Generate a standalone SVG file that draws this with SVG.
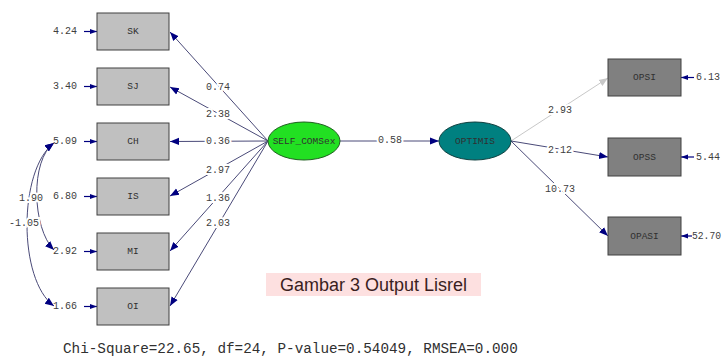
<svg xmlns="http://www.w3.org/2000/svg" width="722" height="358" viewBox="0 0 722 358">
<defs>
<style>
.box{fill:#c0c0c0;stroke:#404040;stroke-width:1}
.boxd{fill:#808080;stroke:#404040;stroke-width:1}
.t{font-family:"Liberation Mono","Courier New",monospace;font-size:9.5px;fill:#303030;text-anchor:middle;dominant-baseline:central}
.lbl{font-family:"Liberation Mono","Courier New",monospace;font-size:10px;fill:#404040;text-anchor:middle;dominant-baseline:central;stroke:#fff;stroke-width:4;paint-order:stroke}
.el{font-family:"Liberation Mono","Courier New",monospace;font-size:10px;fill:#404040;dominant-baseline:central}
.c{fill:none;stroke:#4a4a78;stroke-width:1}
.e{fill:none;stroke:#000080;stroke-width:1.2}
</style>
<marker id="ah" viewBox="0 0 10 10" refX="10" refY="5" markerWidth="9" markerHeight="9" markerUnits="userSpaceOnUse" orient="auto-start-reverse">
<path d="M0,1 L10,5 L0,9 Z" fill="#000080"/>
</marker>
<marker id="ahs" viewBox="0 0 10 10" refX="10" refY="5" markerWidth="7" markerHeight="7" markerUnits="userSpaceOnUse" orient="auto">
<path d="M0,1.5 L10,5 L0,8.5 Z" fill="#000080"/>
</marker>
<marker id="ahg" viewBox="0 0 10 10" refX="10" refY="5" markerWidth="9" markerHeight="9" markerUnits="userSpaceOnUse" orient="auto">
<path d="M0,1 L10,5 L0,9 Z" fill="#c8c8c8"/>
</marker>
</defs>
<rect width="722" height="358" fill="#fff"/>
<g id="connectors">
<line class="c" x1="268" y1="141" x2="170" y2="32" marker-end="url(#ah)"/>
<line class="c" x1="268" y1="141" x2="170" y2="87" marker-end="url(#ah)"/>
<line class="c" x1="268" y1="141" x2="170" y2="141.5" marker-end="url(#ah)"/>
<line class="c" x1="268" y1="141" x2="170" y2="196" marker-end="url(#ah)"/>
<line class="c" x1="268" y1="141" x2="170" y2="251" marker-end="url(#ah)"/>
<line class="c" x1="268" y1="141" x2="170" y2="306" marker-end="url(#ah)"/>
<line class="c" x1="340" y1="141" x2="439" y2="141" marker-end="url(#ah)"/>
<line x1="511" y1="141" x2="608" y2="78" stroke="#c8c8c8" stroke-width="1" marker-end="url(#ahg)"/>
<line class="c" x1="511" y1="141" x2="608" y2="157" marker-end="url(#ah)"/>
<line class="c" x1="511" y1="141" x2="608" y2="236" marker-end="url(#ah)"/>
<line class="e" x1="84" y1="31.5" x2="97" y2="31.5" marker-end="url(#ahs)"/>
<line class="e" x1="84" y1="86.5" x2="97" y2="86.5" marker-end="url(#ahs)"/>
<line class="e" x1="84" y1="141.5" x2="97" y2="141.5" marker-end="url(#ahs)"/>
<line class="e" x1="84" y1="196.5" x2="97" y2="196.5" marker-end="url(#ahs)"/>
<line class="e" x1="84" y1="251.5" x2="97" y2="251.5" marker-end="url(#ahs)"/>
<line class="e" x1="84" y1="306.5" x2="97" y2="306.5" marker-end="url(#ahs)"/>
<line class="e" x1="694" y1="77.5" x2="681" y2="77.5" marker-end="url(#ahs)"/>
<line class="e" x1="694" y1="157" x2="681" y2="157" marker-end="url(#ahs)"/>
<line class="e" x1="692" y1="236" x2="681" y2="236" marker-end="url(#ahs)"/>
<path class="c" d="M54,143 C30,160 32,228 54,250" marker-start="url(#ah)" marker-end="url(#ah)"/>
<path class="c" d="M54,143 C18,170 18,280 54,306" marker-start="url(#ah)" marker-end="url(#ah)"/>
<text class="lbl" x="218" y="87">0.74</text>
<text class="lbl" x="218" y="114">2.38</text>
<text class="lbl" x="218" y="141">0.36</text>
<text class="lbl" x="218" y="170">2.97</text>
<text class="lbl" x="218" y="198">1.36</text>
<text class="lbl" x="218" y="223">2.03</text>
<text class="lbl" x="390" y="140">0.58</text>
<text class="lbl" x="560" y="110">2.93</text>
<text class="lbl" x="560" y="150">2.12</text>
<text class="lbl" x="560" y="189">10.73</text>
<text class="lbl" x="31" y="198">1.90</text>
<text class="lbl" x="24" y="223">-1.05</text>
</g>
<g id="err">
<text class="el" x="53" y="31.5">4.24</text>
<text class="el" x="53" y="86.5">3.40</text>
<text class="el" x="53" y="141.5">5.09</text>
<text class="el" x="53" y="196.5">6.80</text>
<text class="el" x="53" y="251.5">2.92</text>
<text class="el" x="53" y="306.5">1.66</text>
<text class="el" x="696" y="77.5">6.13</text>
<text class="el" x="696" y="157">5.44</text>
<text class="el" x="692" y="236" textLength="29" lengthAdjust="spacingAndGlyphs">52.70</text>
</g>
<g id="SK"><rect class="box" x="97" y="13" width="72" height="37"/><text class="t" x="133" y="31.5">SK</text></g>
<g id="SJ"><rect class="box" x="97" y="68" width="72" height="37"/><text class="t" x="133" y="86.5">SJ</text></g>
<g id="CH"><rect class="box" x="97" y="123" width="72" height="37"/><text class="t" x="133" y="141.5">CH</text></g>
<g id="IS"><rect class="box" x="97" y="178" width="72" height="37"/><text class="t" x="133" y="196.5">IS</text></g>
<g id="MI"><rect class="box" x="97" y="233" width="72" height="37"/><text class="t" x="133" y="251.5">MI</text></g>
<g id="OI"><rect class="box" x="97" y="288" width="72" height="37"/><text class="t" x="133" y="306.5">OI</text></g>
<g id="SELF_COMSex"><ellipse cx="304" cy="141" rx="36" ry="19" fill="#22e022" stroke="#206020" stroke-width="1"/><text class="t" x="304" y="141">SELF_COMSex</text></g>
<g id="OPTIMIS"><ellipse cx="475" cy="141" rx="36" ry="19" fill="#008080" stroke="#104040" stroke-width="1"/><text class="t" x="475" y="141">OPTIMIS</text></g>
<g id="OPSI"><rect class="boxd" x="608" y="59" width="73" height="37"/><text class="t" x="644.5" y="77.5">OPSI</text></g>
<g id="OPSS"><rect class="boxd" x="608" y="138" width="73" height="38"/><text class="t" x="644.5" y="157">OPSS</text></g>
<g id="OPASI"><rect class="boxd" x="608" y="217" width="73" height="38"/><text class="t" x="644.5" y="236">OPASI</text></g>
<g id="caption">
<rect x="266" y="273" width="215" height="23" fill="#fde0e0"/>
<text x="373.5" y="291" font-family="Liberation Sans, Arial, sans-serif" font-size="18" fill="#3a1e1e" text-anchor="middle">Gambar 3 Output Lisrel</text>
</g>
<text x="63" y="353" font-family="Liberation Mono, Courier New, monospace" font-size="14.3" fill="#303030">Chi-Square=22.65, df=24, P-value=0.54049, RMSEA=0.000</text>
</svg>
